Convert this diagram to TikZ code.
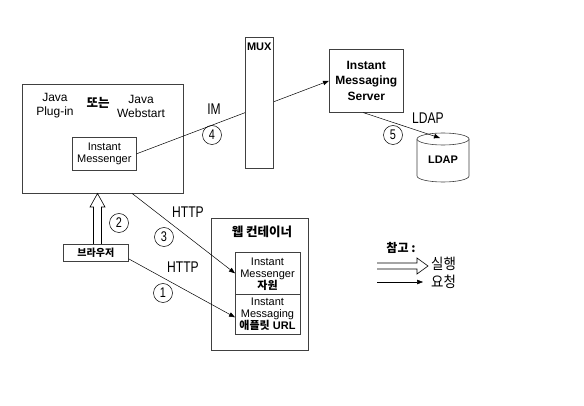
\documentclass[tikz,border=0pt]{standalone}
\usepackage{fontspec}
\setmainfont{Liberation Sans}
\newfontfamily\kr{Noto Sans CJK KR}
\usetikzlibrary{arrows.meta,calc}
\newcommand\nar[1]{\scalebox{0.78}[1]{#1}}
\begin{document}
\begin{tikzpicture}[x=1pt,y=-1pt,
 box/.style={draw=black!75, fill=white, line width=0.6pt, inner sep=0pt},
 conn/.style={draw=black, line width=0.5pt, -{Triangle[length=6pt,width=4.5pt]}},
 num/.style={circle, draw=black, line width=0.5pt, minimum size=19pt, inner sep=0pt, font=\fontsize{14}{14}\selectfont},
 lbl/.style={inner sep=0pt, font=\fontsize{15.5}{15.5}\selectfont},
 outline/.style={draw=black, line width=0.6pt, line join=miter},
 txt/.style={inner sep=0pt, align=center},
]
\useasboundingbox[fill=white] (0,0) rectangle (584,406);

% client box
\node[box, minimum width=161pt, minimum height=109pt, anchor=north west] (client) at (22,84) {};
\node[txt, font=\fontsize{12}{14}\selectfont] (jp) at (55,106) {Java\\Plug-in};
\node[txt, font=\kr\bfseries\fontsize{12.5}{13}\selectfont] (or) at (98,103) {또는};
\node[txt, font=\fontsize{12}{14}\selectfont] (jw) at (141,106) {Java\\Webstart};
\node[box, minimum width=64pt, minimum height=33pt, anchor=north west] (im) at (72,137) {};
\node[txt, font=\fontsize{11}{12}\selectfont] (imt) at (im.center) {Instant\\Messenger};

% server
\node[box, minimum width=74pt, minimum height=63pt, anchor=north west] (server) at (329,49) {};
\node[txt, font=\bfseries\fontsize{12}{15.5}\selectfont] (servert) at (server.center) {Instant\\Messaging\\Server};

% IM connection (behind MUX)
\draw[conn] (im.east) -- (server.west);

% MUX
\node[box, minimum width=28pt, minimum height=131pt, anchor=north west] (mux) at (245,37) {};
\node[txt, font=\bfseries\fontsize{11}{12}\selectfont, anchor=north] (muxt) at ([yshift=-6pt]mux.north) {MUX};

\node[lbl] (imlbl) at (214,109) {\nar{IM}};
\node[num] (n4) at (212,135) {\nar{4}};

% LDAP cylinder
\draw[box] (417,139) -- (417,176) arc[start angle=180, end angle=360, x radius=26pt, y radius=6pt] -- (469,139);
\draw[box] (443,139) ellipse [x radius=26pt, y radius=6pt];
\coordinate (ldaptop) at (440,138);
\node[txt, font=\bfseries\fontsize{11}{12}\selectfont] (ldap) at (443,160) {LDAP};
\draw[conn] ([xshift=-3pt]server.south) -- (ldaptop);
\node[lbl] (ldaplbl) at (428,118) {\nar{LDAP}};
\node[num] (n5) at (393,135) {\nar{5}};

% browser
\node[box, minimum width=65pt, minimum height=17pt, anchor=north west] (browser) at (63,244) {};
\node[txt, font=\kr\bfseries\fontsize{10}{11}\selectfont] (browsert) at (browser.center) {브라우저};

% execute arrow browser -> client
\draw[outline] (93.5,244) -- (93.5,207) -- (90,207) -- (97.5,193.5) -- (105,207) -- (101.5,207) -- (101.5,244);
\node[num] (n2) at (119,223) {\nar{2}};

% web container
\node[box, minimum width=97pt, minimum height=132pt, anchor=north west] (web) at (211,218) {};
\node[txt, font=\kr\bfseries\fontsize{12.5}{13}\selectfont] (webt) at (262,232) {웹 컨테이너};
\node[box, minimum width=65pt, minimum height=42pt, anchor=north west] (res) at (235,252) {};
\node[txt, font=\fontsize{11}{12}\selectfont] (rest) at (267.5,274) {Instant\\Messenger\\{\kr\bfseries 자원}};
\node[box, minimum width=65pt, minimum height=40pt, anchor=north west] (app) at (235,294) {};
\node[txt, font=\fontsize{11}{12}\selectfont] (appt) at (267.5,314) {Instant\\Messaging\\{\kr\bfseries 애플릿} \textbf{URL}};

% HTTP connections
\draw[conn] ([xshift=29.5pt]client.south) -- (res.west);
\node[lbl] (http3) at (188,212) {\nar{HTTP}};
\node[num] (n3) at (164,237) {\nar{3}};
\draw[conn] ([yshift=-6pt]browser.east) -- ([yshift=-3pt]app.west);
\node[lbl] (http1) at (183,267) {\nar{HTTP}};
\node[num] (n1) at (163,293) {\nar{1}};

% legend
\node[txt, font=\kr\bfseries\fontsize{12}{12}\selectfont] (legt) at (401,248) {참고 :};
\draw[outline] (377,263) -- (417,263) -- (417,258) -- (428,266) -- (417,274) -- (417,269) -- (377,269);
\node[lbl, font=\kr\fontsize{15}{15}\selectfont, anchor=west] (exec) at (431,264) {\scalebox{0.9}[1]{실행}};
\coordinate (l2a) at (377,282);
\coordinate (l2b) at (423,282);
\draw[conn] (l2a) -- (l2b);
\node[lbl, font=\kr\fontsize{15}{15}\selectfont, anchor=west] (req) at (431,282) {\scalebox{0.9}[1]{요청}};
\end{tikzpicture}
\end{document}
